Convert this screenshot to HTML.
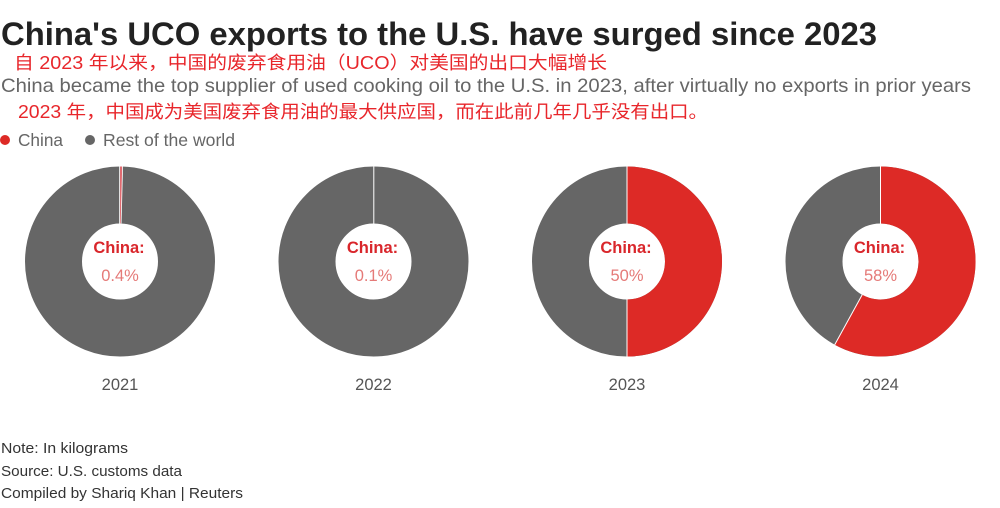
<!DOCTYPE html>
<html><head><meta charset="utf-8"><style>
html,body{margin:0;padding:0;background:#fff;}
svg{display:block;}
</style></head><body>
<svg width="1000" height="508" viewBox="0 0 1000 508" xmlns="http://www.w3.org/2000/svg" font-family="'Liberation Sans','Noto Sans CJK SC',sans-serif">
<rect width="1000" height="508" fill="#fff"/>
<text x="1" y="45" font-size="32" font-weight="bold" fill="#222" textLength="876" lengthAdjust="spacingAndGlyphs">China's UCO exports to the U.S. have surged since 2023</text>
<text x="14" y="69" font-size="18" fill="#e8262b" textLength="593" lengthAdjust="spacingAndGlyphs" font-family="'Liberation Sans','Noto Sans CJK SC',sans-serif">自 2023 年以来，中国的废弃食用油（UCO）对美国的出口大幅增长</text>
<text x="1" y="92" font-size="19.5" fill="#666" textLength="970" lengthAdjust="spacingAndGlyphs">China became the top supplier of used cooking oil to the U.S. in 2023, after virtually no exports in prior years</text>
<text x="18" y="118" font-size="18" fill="#e8262b" textLength="690" lengthAdjust="spacingAndGlyphs" font-family="'Liberation Sans','Noto Sans CJK SC',sans-serif">2023 年，中国成为美国废弃食用油的最大供应国，而在此前几年几乎没有出口。</text>
<circle cx="5" cy="140" r="5" fill="#dd2a26"/>
<text x="18" y="146" font-size="17.5" fill="#666" textLength="45" lengthAdjust="spacingAndGlyphs">China</text>
<circle cx="90" cy="140" r="5" fill="#666"/>
<text x="103" y="146" font-size="17.5" fill="#666" textLength="132" lengthAdjust="spacingAndGlyphs">Rest of the world</text>

<!-- 2021 -->
<circle cx="120" cy="261.5" r="66.5" fill="none" stroke="#666" stroke-width="57"/>
<path d="M120 166.5 A95 95 0 0 1 122.4 166.5 L120.95 223.5 A38 38 0 0 0 120 223.5 Z" fill="#e06a70"/>
<line x1="119.6" y1="166.5" x2="119.6" y2="223.5" stroke="#fff" stroke-width="0.8"/>
<line x1="122.6" y1="166.5" x2="121.1" y2="223.5" stroke="#fff" stroke-width="0.8"/>
<!-- 2022 -->
<circle cx="373.5" cy="261.5" r="66.5" fill="none" stroke="#666" stroke-width="57"/>
<line x1="373.8" y1="166.5" x2="373.8" y2="223.5" stroke="#fff" stroke-width="1"/>
<!-- 2023 -->
<circle cx="627" cy="261.5" r="66.5" fill="none" stroke="#666" stroke-width="57"/>
<path d="M627 166.5 A95 95 0 0 1 627 356.5 L627 299.5 A38 38 0 0 0 627 223.5 Z" fill="#dd2a26"/>
<line x1="627" y1="166.5" x2="627" y2="223.5" stroke="#fff" stroke-width="1"/>
<line x1="627" y1="299.5" x2="627" y2="356.5" stroke="#fff" stroke-width="1"/>
<!-- 2024 -->
<circle cx="880.5" cy="261.5" r="66.5" fill="none" stroke="#666" stroke-width="57"/>
<path d="M880.5 166.5 A95 95 0 1 1 834.7 344.7 L862.2 294.8 A38 38 0 1 0 880.5 223.5 Z" fill="#dd2a26"/>
<line x1="880.5" y1="166.5" x2="880.5" y2="223.5" stroke="#fff" stroke-width="1"/>
<line x1="834.7" y1="344.7" x2="862.2" y2="294.8" stroke="#fff" stroke-width="1"/>

<g text-anchor="middle">
<text x="119" y="253" font-size="16.5" font-weight="bold" fill="#d9262b">China:</text>
<text x="120" y="281" font-size="16.5" fill="#e57a78">0.4%</text>
<text x="372.5" y="253" font-size="16.5" font-weight="bold" fill="#d9262b">China:</text>
<text x="373.5" y="281" font-size="16.5" fill="#e57a78">0.1%</text>
<text x="626" y="253" font-size="16.5" font-weight="bold" fill="#d9262b">China:</text>
<text x="627" y="281" font-size="16.5" fill="#e57a78">50%</text>
<text x="879.5" y="253" font-size="16.5" font-weight="bold" fill="#d9262b">China:</text>
<text x="880.5" y="281" font-size="16.5" fill="#e57a78">58%</text>
<text x="120" y="390" font-size="16.5" fill="#555">2021</text>
<text x="373.5" y="390" font-size="16.5" fill="#555">2022</text>
<text x="627" y="390" font-size="16.5" fill="#555">2023</text>
<text x="880.5" y="390" font-size="16.5" fill="#555">2024</text>
</g>

<text x="1" y="453" font-size="15" fill="#333" textLength="127" lengthAdjust="spacingAndGlyphs">Note: In kilograms</text>
<text x="1" y="476" font-size="15" fill="#333" textLength="181" lengthAdjust="spacingAndGlyphs">Source: U.S. customs data</text>
<text x="1" y="498" font-size="15" fill="#333" textLength="242" lengthAdjust="spacingAndGlyphs">Compiled by Shariq Khan | Reuters</text>
</svg>
</body></html>
